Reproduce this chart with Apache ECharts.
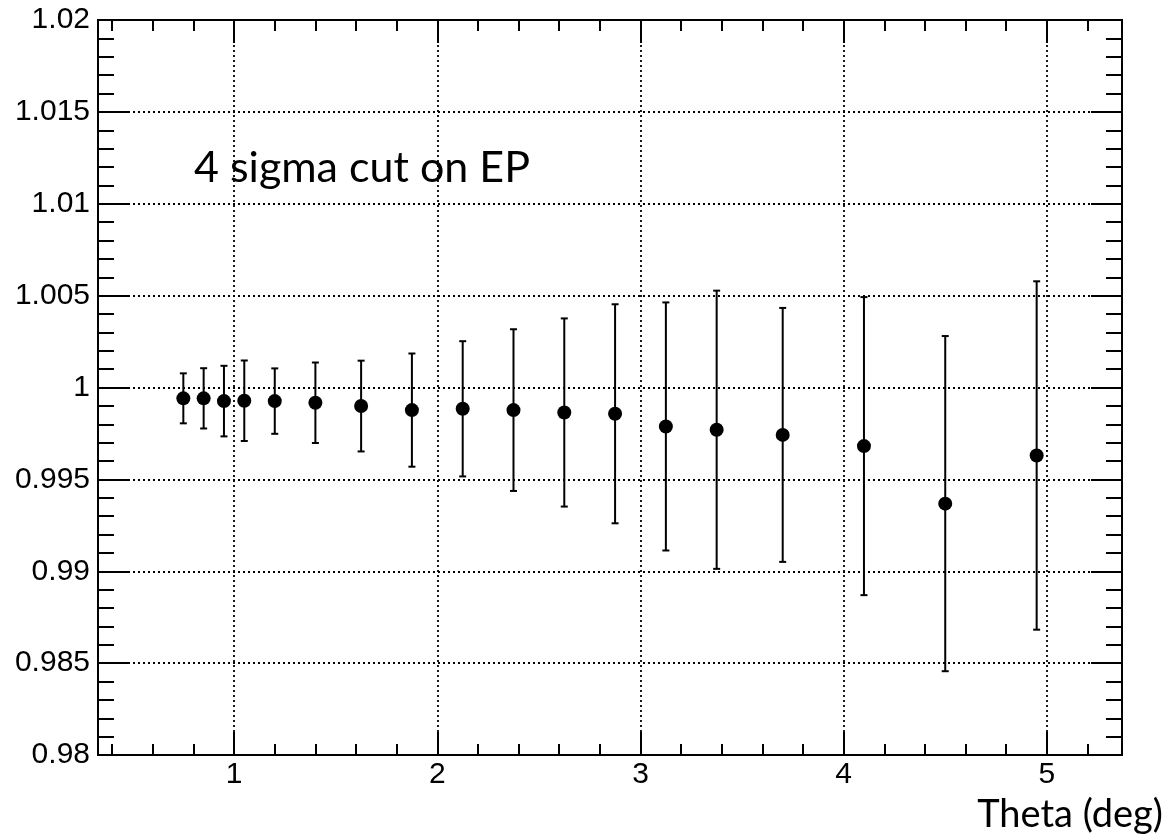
<!DOCTYPE html>
<html>
<head>
<meta charset="utf-8">
<title>4 sigma cut on EP</title>
<script src="https://cdn.jsdelivr.net/npm/echarts@6.0.0/dist/echarts.min.js"></script>
<style>
  html, body { margin: 0; padding: 0; background: #fff; }
  #chart { width: 1168px; height: 840px; }
</style>
</head>
<body>
<div id="chart"></div>
<script>
// theta bin centres (deg)
const thetaValues = [0.75, 0.85, 0.95, 1.05, 1.2, 1.4, 1.625, 1.875, 2.125, 2.375, 2.625, 2.875, 3.125, 3.375, 3.7, 4.1, 4.5, 4.95]
// ratio per bin
const ratioValues = [0.99941, 0.99941, 0.99926, 0.99928, 0.99926, 0.99917, 0.99899, 0.99877, 0.99884, 0.99877, 0.99864, 0.99857, 0.99788, 0.99770, 0.99742, 0.99681, 0.99368, 0.99630]
// symmetric errors
const errValues = [0.00136, 0.00164, 0.00192, 0.00219, 0.00178, 0.00219, 0.00247, 0.00308, 0.00368, 0.00440, 0.00512, 0.00596, 0.00675, 0.00757, 0.00691, 0.00811, 0.00912, 0.00948]

const xTicks = [1, 2, 3, 4, 5]
const xMinorTicks = [0.4, 0.6, 0.8, 1.2, 1.4, 1.6, 1.8, 2.2, 2.4, 2.6, 2.8, 3.2, 3.4, 3.6, 3.8, 4.2, 4.4, 4.6, 4.8, 5.2]
const yTickLabels = ['0.98', '0.985', '0.99', '0.995', '1', '1.005', '1.01', '1.015', '1.02']

const xMin = 0.33
const xMax = 5.37

const chart = echarts.init(document.getElementById('chart'))

const dotted = { color: '#000', width: 1.8, type: [2, 3] }
const labelFont = { color: '#000', fontSize: 30, fontFamily: 'Liberation Sans, Arial, sans-serif' }

function xAxisOf(pos, ticks, len, withLabels, withSplit) {
  return {
    type: 'value',
    position: pos,
    min: xMin,
    max: xMax,
    axisLine: { show: false },
    axisTick: { show: true, inside: true, length: len, customValues: ticks, lineStyle: { color: '#000', width: 2 } },
    axisLabel: withLabels
      ? Object.assign({ show: true, margin: 5, customValues: xTicks }, labelFont)
      : { show: false },
    splitLine: withSplit ? { show: true, lineStyle: dotted } : { show: false }
  }
}

function yAxisOf(pos, withLabels, withSplit) {
  return {
    type: 'value',
    position: pos,
    min: 0.98,
    max: 1.02,
    interval: 0.005,
    axisLine: { show: false },
    axisTick: { show: true, inside: true, length: 31, lineStyle: { color: '#000', width: 2 } },
    minorTick: { show: true, splitNumber: 5, length: 16, lineStyle: { color: '#000', width: 2 } },
    axisLabel: withLabels
      ? Object.assign({
        show: true,
        margin: 8,
        formatter: function (v) {
          const s = String(+v.toFixed(3))
          return yTickLabels.indexOf(s) >= 0 ? s : ''
        }
      }, labelFont)
      : { show: false },
    splitLine: withSplit ? { show: true, lineStyle: dotted } : { show: false }
  }
}

const pointData = thetaValues.map((x, i) => [x, ratioValues[i]])
const errData = thetaValues.map((x, i) => [x, ratioValues[i], ratioValues[i] - errValues[i], ratioValues[i] + errValues[i]])

chart.setOption({
  animation: false,
  backgroundColor: '#fff',
  grid: {
    left: 98,
    right: 46,
    top: 20,
    bottom: 85,
    show: true,
    borderColor: '#000',
    borderWidth: 2,
    backgroundColor: 'transparent',
    z: 5
  },
  xAxis: [
    xAxisOf('bottom', xTicks, 23, true, true),
    xAxisOf('bottom', xMinorTicks, 11, false, false),
    xAxisOf('top', xTicks, 23, false, false),
    xAxisOf('top', xMinorTicks, 11, false, false)
  ],
  yAxis: [
    yAxisOf('left', true, true),
    yAxisOf('right', false, false)
  ],
  graphic: [
    {
      type: 'text',
      left: 194,
      top: 147,
      style: { text: '4 sigma cut on EP', fill: '#000', font: '43px Lato, "Open Sans", sans-serif' }
    },
    {
      type: 'text',
      right: 5,
      top: 796,
      style: { text: 'Theta (deg)', fill: '#000', font: '38px Lato, "Open Sans", sans-serif' }
    }
  ],
  series: [
    {
      name: 'error',
      type: 'custom',
      xAxisIndex: 0,
      yAxisIndex: 0,
      data: errData,
      encode: { x: 0, y: [1, 2, 3] },
      renderItem: function (params, api) {
        const x = api.value(0)
        const top = api.coord([x, api.value(3)])
        const bot = api.coord([x, api.value(2)])
        const w = 3.5
        const style = { stroke: '#000', lineWidth: 2 }
        return {
          type: 'group',
          children: [
            { type: 'line', shape: { x1: top[0], y1: top[1], x2: bot[0], y2: bot[1] }, style: style },
            { type: 'line', shape: { x1: top[0] - w, y1: top[1], x2: top[0] + w, y2: top[1] }, style: style },
            { type: 'line', shape: { x1: bot[0] - w, y1: bot[1], x2: bot[0] + w, y2: bot[1] }, style: style }
          ]
        }
      },
      z: 3
    },
    {
      name: 'ratio',
      type: 'scatter',
      xAxisIndex: 0,
      yAxisIndex: 0,
      data: pointData,
      symbol: 'circle',
      symbolSize: 14,
      itemStyle: { color: '#000', opacity: 1 },
      z: 4
    }
  ]
})
</script>
</body>
</html>
